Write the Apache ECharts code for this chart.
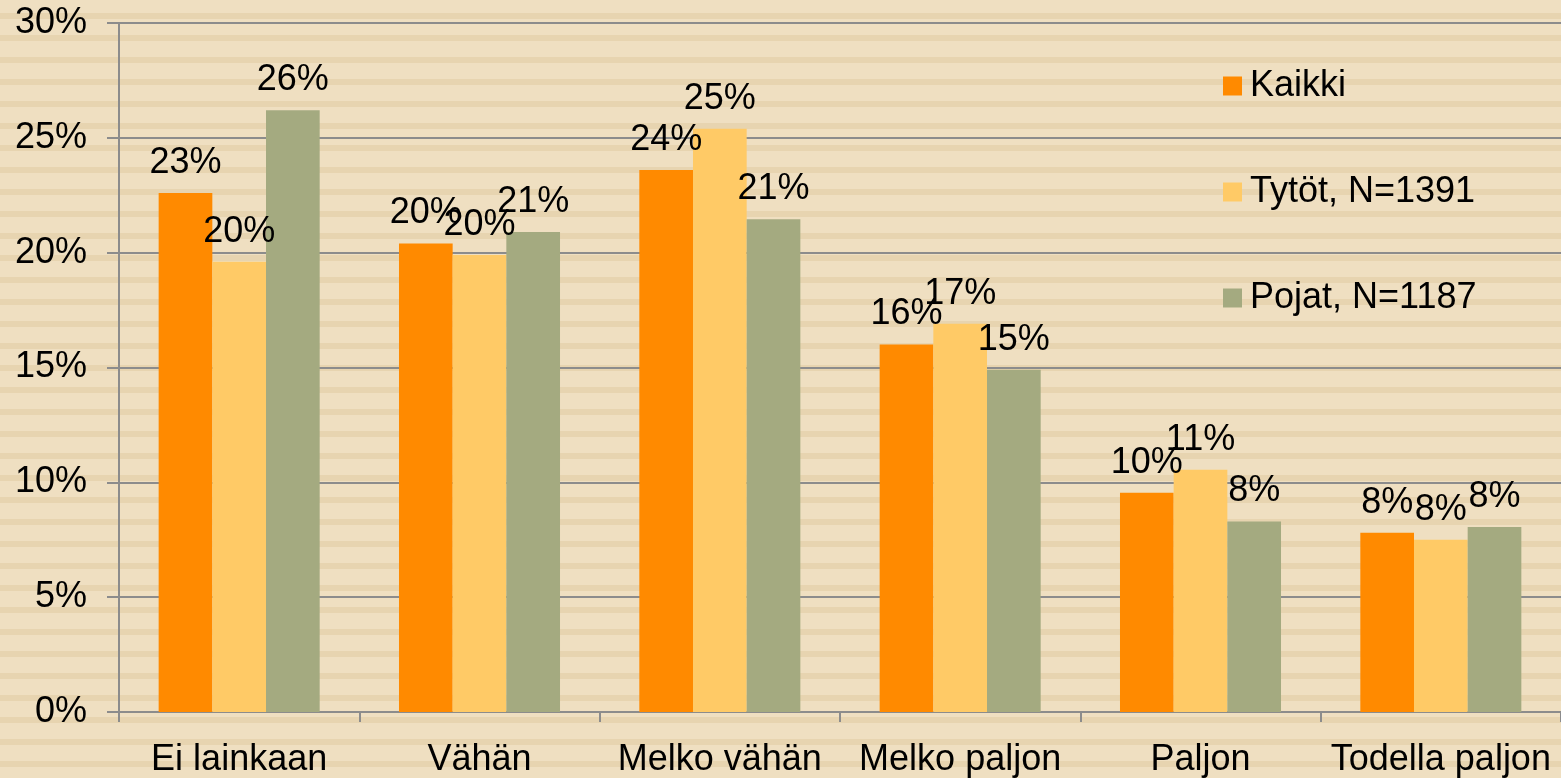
<!DOCTYPE html>
<html>
<head>
<meta charset="utf-8">
<script src="https://cdn.jsdelivr.net/npm/echarts@6/dist/echarts.min.js"></script>
<style>
  html, body { margin: 0; padding: 0; }
  body {
    background: repeating-linear-gradient(to bottom,
      #EFDFC1 0px, #EFDFC1 13px, #E7D4B0 13px, #E7D4B0 19px, #EFDFC1 19px, #EFDFC1 22px);
  }
  #main { width: 1561px; height: 778px; }
</style>
</head>
<body>
<div id="main"></div>
<script>
// luokat ja sarjat
var categories = ['Ei lainkaan', 'Vähän', 'Melko vähän', 'Melko paljon', 'Paljon', 'Todella paljon'];
var kaikki = [22.6, 20.4, 23.6, 16.0, 9.55, 7.8];
var tytot  = [19.6, 19.9, 25.4, 16.9, 10.55, 7.5];
var pojat  = [26.2, 20.9, 21.45, 14.9, 8.3, 8.05];
var seriesNames = ['Kaikki', 'Tytöt, N=1391', 'Pojat, N=1187'];
var colors = ['#FF8A00', '#FFCA66', '#A4AA80'];

var font = 'Liberation Sans, Arial, sans-serif';

function bar(name, data, color) {
  return {
    name: name,
    type: 'bar',
    data: data,
    barGap: '0%',
    barCategoryGap: '33%',
    itemStyle: { color: color },
    label: {
      show: true,
      position: 'top',
      distance: 12,
      color: '#000',
      fontSize: 36,
      fontFamily: font,
      formatter: function (p) { return Math.round(p.value) + '%'; }
    }
  };
}

var myChart = echarts.init(document.getElementById('main'));
myChart.setOption({
  backgroundColor: 'transparent',
  animation: false,
  color: colors,
  grid: { left: 119, right: 0, top: 23, bottom: 66, containLabel: false },
  legend: {
    orient: 'vertical',
    left: 1218,
    top: 63,
    itemWidth: 19,
    itemHeight: 19,
    itemGap: 70,
    icon: 'rect',
    textStyle: { fontSize: 36, fontFamily: font, color: '#000', padding: [0, 0, 0, 3] },
    data: seriesNames
  },
  xAxis: {
    type: 'category',
    data: categories,
    axisLine: { lineStyle: { color: '#8C8C8C', width: 2 } },
    axisTick: { show: true, length: 10, lineStyle: { color: '#8C8C8C', width: 2 } },
    axisLabel: { color: '#000', fontSize: 36, fontFamily: font, margin: 30, interval: 0 }
  },
  yAxis: {
    type: 'value',
    min: 0,
    max: 30,
    interval: 5,
    axisLine: { show: true, lineStyle: { color: '#8C8C8C', width: 2 } },
    axisTick: { show: true, inside: false, length: 12, lineStyle: { color: '#8C8C8C', width: 2 } },
    splitLine: { lineStyle: { color: '#8C8C8C', width: 2 } },
    axisLabel: { color: '#000', fontSize: 36, fontFamily: font, margin: 32, padding: [6, 0, 0, 0], formatter: '{value}%' }
  },
  series: [
    bar(seriesNames[0], kaikki, colors[0]),
    bar(seriesNames[1], tytot, colors[1]),
    bar(seriesNames[2], pojat, colors[2])
  ]
});
</script>
</body>
</html>
